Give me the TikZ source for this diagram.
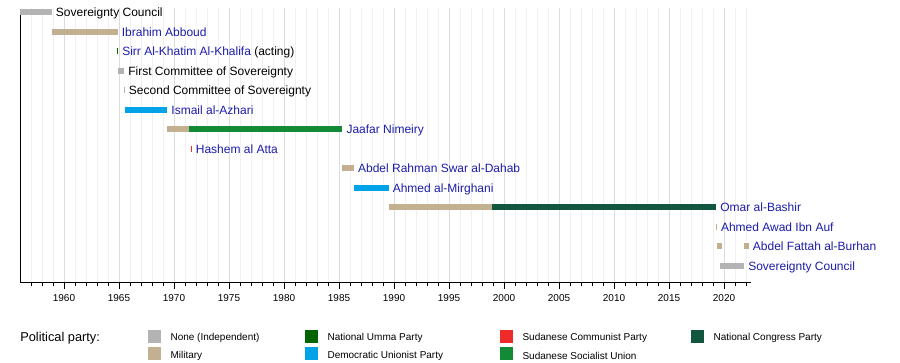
\documentclass[tikz,border=0pt]{standalone}
\usepackage{fontspec}
\setmainfont{Liberation Sans}
\usepackage{xcolor}
\usetikzlibrary{positioning}

\definecolor{indep}{HTML}{B3B3B3}
\definecolor{military}{HTML}{C3B091}
\definecolor{umma}{HTML}{006400}
\definecolor{dup}{HTML}{00A2E8}
\definecolor{communist}{HTML}{EE2A2A}
\definecolor{ssu}{HTML}{138A36}
\definecolor{ncp}{HTML}{115740}
\definecolor{linkblue}{HTML}{1C1CAA}
\definecolor{gridminor}{HTML}{F0F0F0}
\definecolor{gridmajor}{HTML}{DCDCDC}

% year -> picture x (pixels)
\newcommand{\yx}[1]{20+11*(#1-1956)}

\tikzset{
  termbar/.style={line width=4.5pt},
  barlabel/.style={anchor=base west,inner sep=0pt,font=\fontsize{9}{10}\selectfont,text=linkblue},
  ticklabel/.style={inner sep=0pt,font=\fontsize{7.5}{9}\selectfont},
  legendbox/.style={minimum size=9.75pt,inner sep=0pt},
  legendtext/.style={anchor=west,inner sep=0pt,yshift=-1.1pt,font=\fontsize{7.5}{9}\selectfont},
}

\begin{document}
\begin{tikzpicture}[x=0.75pt,y=-0.75pt]
    \useasboundingbox (0,0) rectangle (900,363);

    % Grid lines
    \foreach \yr in {1957,...,2022}
        \draw[gridminor,line width=0.75pt] ({\yx{\yr}},8) -- ({\yx{\yr}},283);
    \foreach \yr in {1960,1965,...,2020}
        \draw[gridmajor,line width=0.75pt] ({\yx{\yr}},8) -- ({\yx{\yr}},283);

    % Axes and ticks
    \draw[line width=0.75pt] (20,10) -- (20,283) -- (751,283);
    \foreach \yr in {1957,...,2022}
        \draw[line width=0.75pt] ({\yx{\yr}},283) -- ({\yx{\yr}},286);
    \foreach \yr in {1960,1965,...,2020} {
        \draw[line width=0.75pt] ({\yx{\yr}},283) -- ({\yx{\yr}},289);
        \node[ticklabel] (t\yr) at ({\yx{\yr}},298) {\yr};
    }

    % Terms in office
    \foreach \a/\b/\c/\r in {1956.0/1958.88/indep/12.5,
                             1958.88/1964.87/military/32,
                             1964.82/1964.91/umma/51.5,
                             1964.91/1965.46/indep/71,
                             1965.42/1965.52/indep/90.5,
                             1965.5/1969.38/dup/110,
                             1969.38/1971.37/military/129.5,
                             1971.37/1985.3/ssu/129.5,
                             1971.52/1971.6/communist/149,
                             1985.3/1986.35/military/168.5,
                             1986.35/1989.5/dup/188,
                             1989.5/1998.9/military/207.5,
                             1998.9/2019.28/ncp/207.5,
                             2019.26/2019.34/military/227,
                             2019.36/2019.8/military/246.5,
                             2021.8/2022.24/military/246.5,
                             2019.66/2021.82/indep/266}
        \draw[termbar,\c] ({\yx{\a}},\r) -- ({\yx{\b}},\r);

    % Names
    \foreach \b/\r/\txt/\nm in {1958.88/12.5/\textcolor{black}{Sovereignty Council}/sov1,
                                1964.87/32/Ibrahim Abboud/abboud,
                                1964.91/51.5/Sirr Al-Khatim Al-Khalifa \textcolor{black}{(acting)}/khalifa,
                                1965.46/71/\textcolor{black}{First Committee of Sovereignty}/comm1,
                                1965.52/90.5/\textcolor{black}{Second Committee of Sovereignty}/comm2,
                                1969.38/110/Ismail al-Azhari/azhari,
                                1985.3/129.5/Jaafar Nimeiry/nimeiry,
                                1971.6/149/Hashem al Atta/atta,
                                1986.35/168.5/Abdel Rahman Swar al-Dahab/dahab,
                                1989.5/188/Ahmed al-Mirghani/mirghani,
                                2019.28/207.5/Omar al-Bashir/bashir,
                                2019.34/227/Ahmed Awad Ibn Auf/auf,
                                2022.24/246.5/Abdel Fattah al-Burhan/burhan,
                                2021.82/266/Sovereignty Council/sov2}
        \node[barlabel] (\nm) at ({\yx{\b}+4},\r+4.3) {\txt};

    % Legend
    \node[anchor=west,inner sep=0pt,font=\fontsize{9.6}{11}\selectfont] (party) at (20,338) {Political party:};
    \foreach \xx/\yy/\c/\txt/\nm in {154.5/336.5/indep/None (Independent)/indep,
                                     154.5/354/military/Military/military,
                                     311.5/336.5/umma/National Umma Party/umma,
                                     311.5/354/dup/Democratic Unionist Party/dup,
                                     506.5/336.5/communist/Sudanese Communist Party/communist,
                                     506.5/354/ssu/Sudanese Socialist Union/ssu,
                                     697.5/336.5/ncp/National Congress Party/ncp} {
        \node[legendbox,fill=\c] (sw-\nm) at (\xx,\yy) {};
        \node[legendtext,right=6.75pt of sw-\nm] (lg-\nm) {\txt};
    }
\end{tikzpicture}
\end{document}
